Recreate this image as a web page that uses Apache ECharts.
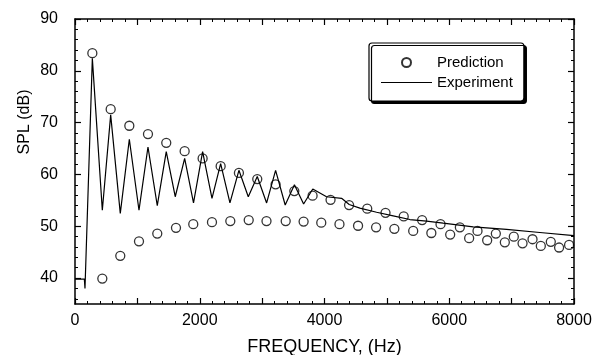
<!DOCTYPE html>
<html><head><meta charset="utf-8">
<script src="https://cdn.jsdelivr.net/npm/echarts@6/dist/echarts.min.js"></script>
<style>html,body{margin:0;padding:0;background:#fff}#wrap{position:relative;width:595px;height:355px}.layer{position:absolute;left:0;top:0;width:595px;height:355px}</style>
</head><body><div id="wrap"><div class="layer" id="labels"></div><div class="layer" id="ticks"></div><div class="layer" id="plot"></div></div>
<script>
// Experiment (measured) curve
const expFreq = [0,150,160,278,438,572,726,871,1026,1170,1319,1463,1607,1758,1900,2046,2196,2335,2484,2628,2778,2922,3072,3216,3370,3518,3665,3812,4033,4274,4396,4567,4835,5101,5369,5636,5903,6383,6918,7452,8000];
const expSpl  = [39.8,39.8,38.0,82.4,53.1,71.5,52.5,66.8,53.1,65.3,54.0,64.4,55.7,63.1,54.5,64.4,55.4,62.1,54.5,60.8,55.7,59.6,54.5,60.8,54.1,58.0,54.3,57.2,55.7,55.4,54.2,53.5,52.7,52.0,51.3,51.0,50.6,49.9,49.4,48.8,48.2];
// Prediction (circles)
const predFreq = [278,438,572,726,871,1026,1170,1319,1463,1619,1758,1896,2046,2196,2335,2490,2628,2785,2922,3070,3216,3378,3516,3665,3809,3948,4097,4240,4394,4538,4685,4827,4978,5120,5270,5422,5565,5713,5860,6015,6170,6319,6453,6608,6747,6891,7035,7175,7335,7468,7628,7761,7921];
const predSpl  = [83.4,39.9,72.6,44.3,69.4,47.1,67.8,48.6,66.1,49.7,64.5,50.4,63.1,50.8,61.6,51.0,60.3,51.2,59.1,51.0,58.1,51.0,56.8,50.9,55.9,50.7,55.1,50.4,54.1,50.1,53.4,49.8,52.6,49.5,51.9,49.1,51.2,48.7,50.4,48.4,49.8,47.7,49.1,47.3,48.6,46.9,48.0,46.7,47.5,46.2,47.0,45.9,46.4];
// tick labels
const xLabels = [0,2000,4000,6000,8000];
const yLabels = [40,50,60,70,80,90];
const yMinor  = [36,38,42,44,46,48,52,54,56,58,62,64,66,68,72,74,76,78,82,84,86,88];

const FONT = 'Liberation Sans';
const BLACK = '#000';
const X_MIN = 0, X_MAX = 8000, Y_MIN = 35, Y_MAX = 90;
const gridBox = () => ({left:75, right:21, top:19, bottom:51, containLabel:false, outerBoundsMode:'none'});

// ---- layer 1: tick labels and axis name ----
echarts.init(document.getElementById('labels')).setOption({
  animation:false,
  backgroundColor:'#fff',
  textStyle:{fontFamily:FONT},
  grid:gridBox(),
  xAxis:{type:'value', min:X_MIN, max:X_MAX, interval:1000, position:'bottom',
    axisLine:{show:false, onZero:false}, axisTick:{show:false}, minorTick:{show:false}, splitLine:{show:false},
    axisLabel:{color:BLACK, fontSize:16, margin:9, formatter:v => xLabels.includes(v) ? String(v) : ''},
    name:'FREQUENCY, (Hz)', nameLocation:'middle', nameGap:34, nameTextStyle:{color:BLACK, fontSize:18}},
  yAxis:{type:'value', min:Y_MIN, max:Y_MAX, position:'left',
    axisLine:{show:false, onZero:false}, axisTick:{show:false}, splitLine:{show:false},
    axisLabel:{customValues:yLabels, color:BLACK, fontSize:16, margin:17}}
});

// ---- layer 2: frame and inward ticks on all four sides ----
function xAx(grid, pos, visible){
  return {
    gridIndex:grid, show:visible,
    type:'value', min:X_MIN, max:X_MAX, interval:1000, position:pos,
    axisLine:{show:true, onZero:false, lineStyle:{color:BLACK, width:1.5}},
    axisTick:{show:true, inside:true, length:6, lineStyle:{color:BLACK, width:1.2}},
    minorTick:{show:true, splitNumber:5, length:3, lineStyle:{color:BLACK, width:1}},
    splitLine:{show:false}, minorSplitLine:{show:false},
    axisLabel:{show:false}
  };
}
function yAx(grid, pos, major){
  return {
    gridIndex:grid,
    type:'value', min:Y_MIN, max:Y_MAX, position:pos,
    axisLine:{show:major, onZero:false, lineStyle:{color:BLACK, width:1.5}},
    axisTick:{show:true, inside:true, length: major ? 6 : 3,
      customValues: major ? yLabels : yMinor,
      lineStyle:{color:BLACK, width: major ? 1.2 : 1}},
    splitLine:{show:false},
    axisLabel:{show:false}
  };
}
echarts.init(document.getElementById('ticks')).setOption({
  animation:false,
  backgroundColor:'transparent',
  grid:[gridBox(), gridBox(), gridBox(), gridBox()],
  xAxis:[xAx(0,'bottom',true), xAx(1,'top',true), xAx(2,'bottom',false), xAx(3,'bottom',false)],
  yAxis:[yAx(0,'left',true), yAx(1,'right',true), yAx(2,'left',false), yAx(3,'right',false)]
});

// ---- layer 3: data, legend, y title (same scales) ----
echarts.init(document.getElementById('plot')).setOption({
  animation:false,
  backgroundColor:'transparent',
  textStyle:{fontFamily:FONT},
  grid:gridBox(),
  xAxis:{type:'value', min:X_MIN, max:X_MAX, show:false},
  yAxis:{type:'value', min:Y_MIN, max:Y_MAX, show:false},
  legend:{
    data:[{name:'Prediction', icon:'circle'},{name:'Experiment', icon:'path://M0,0L51,0L51,1.2L0,1.2Z'}],
    orient:'vertical', left:369, top:43,
    padding:[12,11,11,12], itemWidth:51, itemHeight:9, itemGap:5,
    textStyle:{color:BLACK, fontSize:15},
    backgroundColor:'#fff', borderColor:BLACK, borderWidth:1.2, borderRadius:3,
    shadowColor:BLACK, shadowBlur:0, shadowOffsetX:2.5, shadowOffsetY:2.5
  },
  graphic:[{
    type:'text', x:25, y:122, rotation:Math.PI/2,
    style:{text:'SPL (dB)', fontSize:16, fontFamily:FONT, fill:BLACK, align:'center', verticalAlign:'middle'}
  }],
  series:[
    {type:'scatter', name:'Prediction',
     data: predFreq.map((f,i)=>[f, predSpl[i]]),
     symbol:'circle', symbolSize:9,
     itemStyle:{color:'rgba(255,255,255,0)', borderColor:BLACK, borderWidth:1.3}},
    {type:'line', name:'Experiment',
     data: expFreq.map((f,i)=>[f, expSpl[i]]),
     symbol:'none', showSymbol:false,
     lineStyle:{color:BLACK, width:1.2}, itemStyle:{color:BLACK}}
  ]
});
</script></body></html>
